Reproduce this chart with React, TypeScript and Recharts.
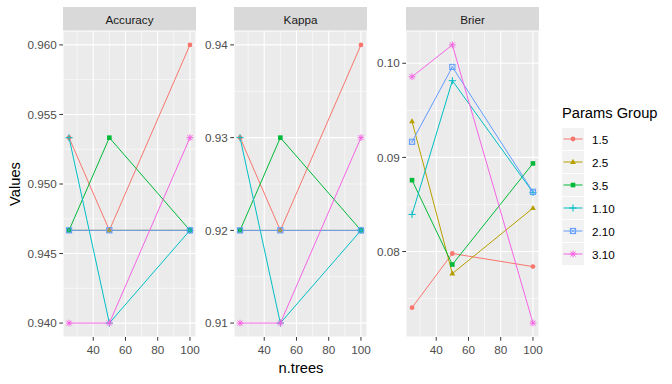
import { CartesianGrid, Line, LineChart, XAxis, YAxis } from "recharts"

const nTrees = [25, 50, 100]
const groups = ["1.5", "2.5", "3.5", "1.10", "2.10", "3.10"]
const colors = ["#F8766D", "#B79F00", "#00BA38", "#00BFC4", "#619CFF", "#F564E3"]
const shapes = ["circle", "triangle", "square", "plus", "boxcross", "asterisk"]

// one row per group, values at n.trees = 25, 50, 100
const accuracyValues = [
  [0.95333, 0.94667, 0.96],
  [0.94667, 0.94667, 0.94667],
  [0.94667, 0.95333, 0.94667],
  [0.95333, 0.94, 0.94667],
  [0.94667, 0.94667, 0.94667],
  [0.94, 0.94, 0.95333],
]
const kappaValues = [
  [0.93, 0.92, 0.94],
  [0.92, 0.92, 0.92],
  [0.92, 0.93, 0.92],
  [0.93, 0.91, 0.92],
  [0.92, 0.92, 0.92],
  [0.91, 0.91, 0.93],
]
const brierValues = [
  [0.07404, 0.07979, 0.0784],
  [0.09383, 0.07766, 0.08461],
  [0.08758, 0.07862, 0.08936],
  [0.08394, 0.09815, 0.08628],
  [0.09166, 0.09961, 0.08634],
  [0.09857, 0.10195, 0.0724],
]

const xTicks = [40, 60, 80, 100]
const xMinor = [30, 50, 70, 90]
const accuracyTicks = [0.94, 0.945, 0.95, 0.955, 0.96]
const accuracyMinor = [0.9425, 0.9475, 0.9525, 0.9575]
const kappaTicks = [0.91, 0.92, 0.93, 0.94]
const kappaMinor = [0.915, 0.925, 0.935]
const brierTicks = [0.08, 0.09, 0.1]
const brierMinor = [0.075, 0.085, 0.095]

const FONT = "'Liberation Sans', Arial, sans-serif"
const H = 384
const TOP = 31
const BOTTOM = 337

const expand = (vals: number[]): [number, number] => {
  const lo = Math.min(...vals)
  const hi = Math.max(...vals)
  const pad = (hi - lo) * 0.05
  return [lo - pad, hi + pad]
}

const toRows = (values: number[][]) =>
  nTrees.map((n, i) => {
    const row: any = { n }
    values.forEach((v, g) => (row["g" + g] = v[i]))
    return row
  })

function Marker({ shape, cx, cy, color }: any) {
  if (cx == null || cy == null) return null
  switch (shape) {
    case "circle":
      return <circle cx={cx} cy={cy} r={2.4} fill={color} />
    case "triangle":
      return <polygon points={`${cx},${cy - 3.2} ${cx - 2.9},${cy + 1.9} ${cx + 2.9},${cy + 1.9}`} fill={color} />
    case "square":
      return <rect x={cx - 2.3} y={cy - 2.3} width={4.6} height={4.6} fill={color} />
    case "plus":
      return <path d={`M${cx - 3.6},${cy}H${cx + 3.6}M${cx},${cy - 3.6}V${cy + 3.6}`} stroke={color} strokeWidth={1} />
    case "boxcross":
      return (
        <g stroke={color} strokeWidth={1} fill="none">
          <rect x={cx - 2.6} y={cy - 2.6} width={5.2} height={5.2} />
          <path d={`M${cx - 2.6},${cy - 2.6}L${cx + 2.6},${cy + 2.6}M${cx - 2.6},${cy + 2.6}L${cx + 2.6},${cy - 2.6}`} strokeWidth={0.6} />
        </g>
      )
    default:
      return (
        <path
          d={`M${cx - 3.4},${cy}H${cx + 3.4}M${cx},${cy - 3.4}V${cy + 3.4}M${cx - 2.5},${cy - 2.5}L${cx + 2.5},${cy + 2.5}M${cx - 2.5},${cy + 2.5}L${cx + 2.5},${cy - 2.5}`}
          stroke={color}
          strokeWidth={1}
        />
      )
  }
}

function Panel({ title, values, ticks, minor, digits, chartLeft, left, right }: any) {
  const data = toRows(values)
  const domain = expand(values.flat())
  const tickStyle = { fontSize: 11.7, fill: "#4D4D4D", fontFamily: FONT }
  return (
    <>
      <div
        style={{
          position: "absolute", left, top: 7, width: right - left, height: TOP - 7,
          background: "#D9D9D9", color: "#1A1A1A", fontFamily: FONT, fontSize: 11.7,
          display: "flex", alignItems: "center", justifyContent: "center",
        }}
      >
        {title}
      </div>
      <div style={{ position: "absolute", left: chartLeft, top: 0 }}>
        <LineChart width={right - chartLeft + 4} height={H} data={data} margin={{ top: TOP, right: 4, bottom: 0, left: 0 }}>
          <CartesianGrid fill="#EBEBEB" fillOpacity={1} stroke="#FFFFFF" strokeWidth={0.55} horizontalValues={minor} verticalValues={xMinor} />
          <CartesianGrid stroke="#FFFFFF" strokeWidth={1.1} />
          <XAxis
            dataKey="n" type="number" domain={[21.25, 103.75]} ticks={xTicks} allowDataOverflow
            height={H - BOTTOM} axisLine={false} tickSize={3.7} tickMargin={5}
            tickLine={{ stroke: "#333333" }} tick={tickStyle}
          />
          <YAxis
            type="number" domain={domain} ticks={ticks} allowDataOverflow width={left - chartLeft}
            axisLine={false} tickSize={3.7} tickMargin={2.5} tickLine={{ stroke: "#333333" }} tick={tickStyle}
            tickFormatter={(v: number) => v.toFixed(digits)}
          />
          {groups.map((g, i) => (
            <Line
              key={g} name={g} dataKey={"g" + i} type="linear" stroke={colors[i]} strokeWidth={1}
              isAnimationActive={false} activeDot={false}
              dot={(p: any) => <Marker key={g + p.index} shape={shapes[i]} cx={p.cx} cy={p.cy} color={colors[i]} />}
            />
          ))}
        </LineChart>
      </div>
    </>
  )
}

function LegendKey({ i }: { i: number }) {
  return (
    <svg width={22} height={22} style={{ display: "block" }}>
      <rect width={22} height={22} fill="#F2F2F2" />
      <line x1={1.5} x2={20.5} y1={11} y2={11} stroke={colors[i]} strokeWidth={1} />
      <Marker shape={shapes[i]} cx={11} cy={11} color={colors[i]} />
    </svg>
  )
}

export default function App() {
  return (
    <div style={{ position: "absolute", left: 0, top: 0, width: 672, height: H, background: "#FFFFFF", overflow: "hidden" }}>
      <Panel title="Accuracy" values={accuracyValues} ticks={accuracyTicks} minor={accuracyMinor} digits={3} chartLeft={0} left={63} right={196} />
      <Panel title="Kappa" values={kappaValues} ticks={kappaTicks} minor={kappaMinor} digits={2} chartLeft={200} left={234} right={367} />
      <Panel title="Brier" values={brierValues} ticks={brierTicks} minor={brierMinor} digits={2} chartLeft={371} left={406} right={539} />

      <div
        style={{
          position: "absolute", left: 14.5, top: 184, fontFamily: FONT, fontSize: 14.7, color: "#000",
          transform: "translate(-50%, -50%) rotate(-90deg)", whiteSpace: "nowrap", lineHeight: 1,
        }}
      >
        Values
      </div>
      <div
        style={{
          position: "absolute", left: 301, top: 368, fontFamily: FONT, fontSize: 14.7, color: "#000",
          transform: "translate(-50%, -50%)", whiteSpace: "nowrap", lineHeight: 1,
        }}
      >
        n.trees
      </div>

      <div style={{ position: "absolute", left: 562, top: 106, fontFamily: FONT, fontSize: 14.7, color: "#000", lineHeight: 1, whiteSpace: "nowrap" }}>
        Params Group
      </div>
      {groups.map((g, i) => (
        <div key={g} style={{ position: "absolute", left: 562, top: 128 + i * 23, display: "flex", alignItems: "center" }}>
          <LegendKey i={i} />
          <span style={{ marginLeft: 8, fontFamily: FONT, fontSize: 11.7, color: "#000" }}>{g}</span>
        </div>
      ))}
    </div>
  )
}
